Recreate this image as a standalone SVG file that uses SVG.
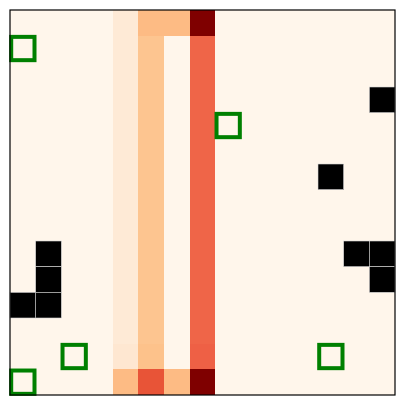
<svg xmlns="http://www.w3.org/2000/svg" width="405" height="405" viewBox="0 0 405 405">
<style>
.cell{shape-rendering:crispEdges}
.wall{fill:#000000;stroke:#d8d8d8;stroke-width:0.6}
.goal{fill:none;stroke:#008000;stroke-width:4}
</style>
<rect x="0" y="0" width="405" height="405" fill="#ffffff"/>
<g id="heatmap" class="cell">
<rect x="10" y="10" width="385" height="385" fill="#fff6eb"/>
<rect x="112.67" y="10" width="25.67" height="333.67" fill="#feead6"/>
<rect x="112.67" y="343.67" width="25.67" height="25.67" fill="#fee7d1"/>
<rect x="112.67" y="369.33" width="25.67" height="25.67" fill="#fdbb84"/>
<rect x="138.33" y="10" width="51.33" height="25.67" fill="#fdbb84"/>
<rect x="138.33" y="35.67" width="25.67" height="308" fill="#fdc590"/>
<rect x="138.33" y="343.67" width="25.67" height="25.67" fill="#fdc28b"/>
<rect x="138.33" y="369.33" width="25.67" height="25.67" fill="#e85437"/>
<rect x="164" y="369.33" width="25.67" height="25.67" fill="#fdbb84"/>
<rect x="189.67" y="10" width="25.67" height="25.67" fill="#7f0000"/>
<rect x="189.67" y="35.67" width="25.67" height="308" fill="#ef6548"/>
<rect x="189.67" y="343.67" width="25.67" height="25.67" fill="#ee6045"/>
<rect x="189.67" y="369.33" width="25.67" height="25.67" fill="#7f0000"/>
</g>
<g id="walls">
<rect id="wall-r3c14" class="wall" x="369.33" y="87" width="25.67" height="25.67"/>
<rect id="wall-r6c12" class="wall" x="318" y="164" width="25.67" height="25.67"/>
<rect id="wall-r9c13" class="wall" x="343.67" y="241" width="25.67" height="25.67"/>
<rect id="wall-r9c14" class="wall" x="369.33" y="241" width="25.67" height="25.67"/>
<rect id="wall-r10c14" class="wall" x="369.33" y="266.67" width="25.67" height="25.67"/>
<rect id="wall-r9c1" class="wall" x="35.67" y="241" width="25.67" height="25.67"/>
<rect id="wall-r10c1" class="wall" x="35.67" y="266.67" width="25.67" height="25.67"/>
<rect id="wall-r11c1" class="wall" x="35.67" y="292.33" width="25.67" height="25.67"/>
<rect id="wall-r11c0" class="wall" x="10" y="292.33" width="25.67" height="25.67"/>
</g>
<g id="goals">
<g id="goal-r1c0"><rect class="goal" x="11.2" y="36.87" width="23.3" height="23.3"/></g>
<g id="goal-r4c8"><rect class="goal" x="216.53" y="113.87" width="23.3" height="23.3"/></g>
<g id="goal-r13c2"><rect class="goal" x="62.53" y="344.87" width="23.3" height="23.3"/></g>
<g id="goal-r13c12"><rect class="goal" x="319.2" y="344.87" width="23.3" height="23.3"/></g>
<g id="goal-r14c0"><rect class="goal" x="11.2" y="370.53" width="23.3" height="23.3"/></g>
</g>
<rect id="frame" x="10" y="10" width="385" height="385" fill="none" stroke="#000000" stroke-width="1.2"/>
</svg>
